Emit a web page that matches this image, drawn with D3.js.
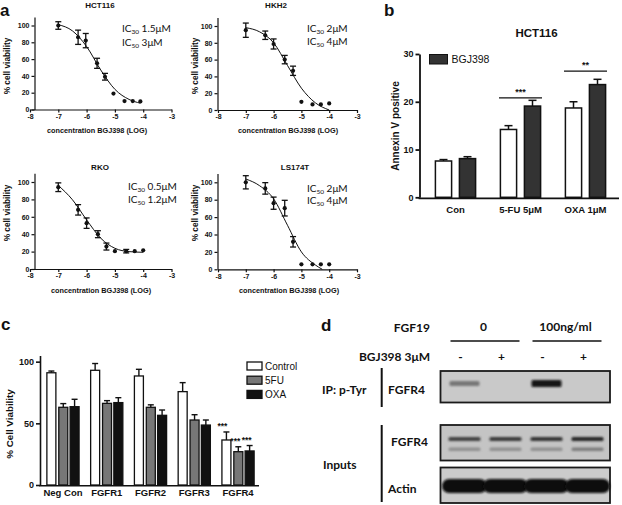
<!DOCTYPE html>
<html><head><meta charset="utf-8">
<script src="https://cdn.jsdelivr.net/npm/d3@7"></script>
<style>body{margin:0;background:#fff;} svg{display:block;}</style>
</head><body><svg id="chart" width="622" height="505"></svg>
<script>
// ================= DATA =================
// Panel a: dose-response curves
const aXTicks = [-8,-7,-6,-5,-4,-3];
const aYTicks = [0,20,40,60,80,100];
const aXLabel = "concentration BGJ398 (LOG)";
const aYLabel = "% cell viability";

const hct116LogConc = [-7,-6.3,-6.03,-5.63,-5.35,-5.05,-4.66,-4.37,-4.1];
const hct116Viab    = [100,86,82,55,39,19,10,10,9.6];
const hct116Err     = [4.5,8.5,8.5,6,4,0,0,0,0];
const hct116FitX    = [-7,-6.5,-6,-5.5,-5,-4.5,-4.1];
const hct116FitY    = [101,93.6,75,47,24,12,7.5];
const hct116IC      = [["30","1.5μM"],["50","3μM"]];

const hkh2LogConc = [-7,-6.3,-6,-5.6,-5.3,-5,-4.6,-4.3,-4];
const hkh2Viab    = [95,89,78.6,60,46.7,9.7,6.6,6.6,7.8];
const hkh2Err     = [8.5,5,6,5,5.5,0,0,0,0];
const hkh2FitX    = [-7,-6.5,-6,-5.5,-5,-4.5,-4];
const hkh2FitY    = [98,93,80,53,26,8.6,0];
const hkh2IC      = [["30","2μM"],["50","4μM"]];

const rkoLogConc = [-7,-6.3,-6,-5.6,-5.3,-5,-4.6,-4.3,-4];
const rkoViab    = [94,68,52.7,40,25.8,20.5,20.5,20.5,21.5];
const rkoErr     = [5,6,6,4,4,0,2,0,0];
const rkoFitX    = [-7,-6.5,-6,-5.5,-5,-4.5,-4];
const rkoFitY    = [96,79.6,56.5,35.4,23.8,20,19.2];
const rkoIC      = [["30","0.5μM"],["50","1.2μM"]];

const ls174tLogConc = [-7,-6.3,-6,-5.6,-5.3,-5,-4.6,-4.3,-4];
const ls174tViab    = [100,93,76,70.3,31.6,5.7,5.7,5.7,5.7];
const ls174tErr     = [7.6,6.6,7,9,6,0,0,0,0];
const ls174tFitX    = [-7,-6.5,-6,-5.5,-5,-4.5,-4.25];
const ls174tFitY    = [103.8,96,81,50.6,20,5,0];
const ls174tIC      = [["50","2μM"],["50","4μM"]];

// Panel b: Annexin V
const bTitle = "HCT116";
const bCategories = ["Con","5-FU 5μM","OXA 1μM"];
const bYTicks = [0,10,20,30];
const bYLabel = "Annexin V positive";
const bLegend = "BGJ398";
const bControl    = [7.6,14.2,18.7];
const bControlErr = [0.3,0.8,1.3];
const bBGJ        = [8.1,19.1,23.6];
const bBGJErr     = [0.4,1.2,1.1];
const bSigGroups  = ["5-FU 5μM","OXA 1μM"];
const bSigLabels  = ["***","**"];
const bSigLevels  = [20.8,26.4];

// Panel c: FGFR knockdown viability
const cCategories = ["Neg Con","FGFR1","FGFR2","FGFR3","FGFR4"];
const cSeries = ["Control","5FU","OXA"];
const cYTicks = [0,50,100];
const cYLabel = "% Cell Viability";
const cControl    = [91,93,88.4,75.7,36.5];
const cControlErr = [1.4,5.5,5.4,7.3,6.5];
const c5FU        = [63,66.2,63,52.7,27];
const c5FUErr     = [3,2.2,2,4.3,4];
const cOXA        = [63.5,66.8,56.5,48.6,27.6];
const cOXAErr     = [6,4,4.3,4.1,4.4];
const cStarLabel  = "***";

// Panel d: western blot
const dFGF19Groups = ["0","100ng/ml"];
const dBGJ = ["-","+","-","+"];
const dIPBand      = [0.45,0,1,0];
const dFGFR4Upper  = [0.7,0.75,0.78,0.85];
const dFGFR4Lower  = [0.3,0.3,0.3,0.4];
const dActin       = [1,1,1,1];

// ================= DRAW =================
const svg = d3.select("#chart");
const ARIAL = "'Liberation Sans', Arial, sans-serif";
const CAL = "Lato, 'Open Sans', sans-serif";
const INK = "#111";

const defs = svg.append("defs");
defs.append("filter").attr("id","blur1").attr("x","-20%").attr("y","-100%").attr("width","140%").attr("height","300%")
  .append("feGaussianBlur").attr("stdDeviation",0.9);
defs.append("filter").attr("id","blur2").attr("x","-20%").attr("y","-100%").attr("width","140%").attr("height","300%")
  .append("feGaussianBlur").attr("stdDeviation",1.3);

function letter(t,x,y){
  svg.append("text").attr("x",x).attr("y",y).text(t)
    .attr("font-family",ARIAL).attr("font-weight","bold").attr("font-size",17).attr("fill",INK);
}
letter("a",0,16); letter("b",384,16); letter("c",1,330); letter("d",321,331);

function styleAxis(g, fs, sw){
  g.selectAll("path.domain").attr("stroke",INK).attr("stroke-width",sw);
  g.selectAll(".tick line").attr("stroke",INK).attr("stroke-width",sw);
  g.selectAll(".tick text").attr("font-family",ARIAL).attr("font-weight","bold")
    .attr("font-size",fs).attr("fill",INK);
}

function curvePanel(o){
  const g = svg.append("g");
  const x = d3.scaleLinear().domain([-8,-3]).range(o.xr);
  const y = d3.scaleLinear().domain([0,110]).range(o.yr);
  // axes
  const ya = g.append("g").attr("transform",`translate(${o.yAxisX},0)`)
    .call(d3.axisLeft(y).tickValues(aYTicks).tickSize(3).tickSizeOuter(0).tickPadding(2));
  styleAxis(ya,7,1.2);
  const xa = g.append("g").attr("transform",`translate(0,${y(0)})`)
    .call(d3.axisBottom(x).tickValues(aXTicks).tickFormat(d=>String(d)).tickSize(3).tickSizeOuter(0).tickPadding(1.5));
  styleAxis(xa,7,1.2);
  // fit curve
  const line = d3.line().x(d=>x(d[0])).y(d=>y(d[1])).curve(d3.curveMonotoneX);
  g.append("path").datum(d3.zip(o.fitX,o.fitY)).attr("d",line)
    .attr("fill","none").attr("stroke",INK).attr("stroke-width",1);
  // error bars
  const pts = o.lx.map((v,i)=>({x:v,y:o.vy[i],e:o.err[i]}));
  const eb = g.append("g").attr("stroke",INK).attr("stroke-width",1.3);
  pts.filter(p=>p.e>0).forEach(p=>{
    eb.append("line").attr("x1",x(p.x)).attr("x2",x(p.x)).attr("y1",y(p.y-p.e)).attr("y2",y(p.y+p.e));
    [p.y-p.e,p.y+p.e].forEach(v=>eb.append("line").attr("x1",x(p.x)-3).attr("x2",x(p.x)+3).attr("y1",y(v)).attr("y2",y(v)));
  });
  g.selectAll("circle.pt").data(pts).enter().append("circle")
    .attr("cx",d=>x(d.x)).attr("cy",d=>y(d.y)).attr("r",2.1).attr("fill",INK);
  // title
  g.append("text").attr("x",o.title[1]).attr("y",o.title[2]).attr("text-anchor","middle").text(o.title[0])
    .attr("font-family",ARIAL).attr("font-weight","bold").attr("font-size",8).attr("fill",INK);
  // IC labels
  o.ic.forEach((d,i)=>{
    const t = g.append("text").attr("x",o.icX).attr("y",o.icY[i])
      .attr("font-family",CAL).attr("font-size",10).attr("fill",INK);
    t.append("tspan").text("IC");
    t.append("tspan").text(d[0]).attr("font-size",6.5).attr("dy",2);
    t.append("tspan").text(" "+d[1]).attr("dy",-2);
  });
  // axis labels
  g.append("text").attr("x",o.xl[0]).attr("y",o.xl[1]).attr("text-anchor","middle").text(aXLabel)
    .attr("font-family",ARIAL).attr("font-weight","bold").attr("font-size",7.3).attr("fill",INK);
  g.append("text").attr("transform",`translate(${o.yl[0]},${o.yl[1]}) rotate(-90)`)
    .attr("text-anchor","middle").attr("dy","0.35em").text(aYLabel)
    .attr("font-family",ARIAL).attr("font-weight","bold").attr("font-size",8.3).attr("fill",INK);
}

curvePanel({xr:[30,171.5], yr:[109.5,17.1], yAxisX:34.5, lx:hct116LogConc, vy:hct116Viab, err:hct116Err,
  fitX:hct116FitX, fitY:hct116FitY, ic:hct116IC, icX:122, icY:[32,45.5], title:["HCT116",100,8],
  xl:[97,133], yl:[7,66]});
curvePanel({xr:[218,357], yr:[110,17.6], yAxisX:217.5, lx:hkh2LogConc, vy:hkh2Viab, err:hkh2Err,
  fitX:hkh2FitX, fitY:hkh2FitY, ic:hkh2IC, icX:307, icY:[31.5,45], title:["HKH2",276,8],
  xl:[288,133], yl:[195,66]});
curvePanel({xr:[30,171.5], yr:[269,173.3], yAxisX:34.5, lx:rkoLogConc, vy:rkoViab, err:rkoErr,
  fitX:rkoFitX, fitY:rkoFitY, ic:rkoIC, icX:128, icY:[189.5,202.5], title:["RKO",100,170],
  xl:[101,293], yl:[7,213]});
curvePanel({xr:[218,357], yr:[269.3,173.6], yAxisX:217.5, lx:ls174tLogConc, vy:ls174tViab, err:ls174tErr,
  fitX:ls174tFitX, fitY:ls174tFitY, ic:ls174tIC, icX:307, icY:[192,203.5], title:["LS174T",295,170],
  xl:[289,293], yl:[195,213]});

// ---------- Panel b ----------
(function(){
  const g = svg.append("g");
  const y = d3.scaleLinear().domain([0,30]).range([197.3,54]);
  const x = d3.scaleBand().domain(bCategories).range([423,618]);
  const ya = g.append("g").attr("transform","translate(419.5,0)")
    .call(d3.axisLeft(y).tickValues(bYTicks).tickSize(4).tickSizeOuter(0).tickPadding(2));
  styleAxis(ya,9,1.8);
  g.append("line").attr("x1",418.6).attr("x2",619).attr("y1",198.3).attr("y2",198.3).attr("stroke",INK).attr("stroke-width",1.8);
  const xa = g.append("g").attr("transform","translate(0,198.3)")
    .call(d3.axisBottom(x).tickSize(0).tickPadding(8));
  xa.select("path.domain").remove();
  styleAxis(xa,9.5,1.5);
  const bw = 16.2, off = 12;
  const series = [{v:bControl,e:bControlErr,f:"#fff",o:-off},{v:bBGJ,e:bBGJErr,f:"#333",o:off}];
  series.forEach(s=>{
    bCategories.forEach((c,i)=>{
      const cx = x(c)+x.bandwidth()/2+s.o;
      g.append("line").attr("x1",cx).attr("x2",cx).attr("y1",y(s.v[i])).attr("y2",y(s.v[i]+s.e[i])).attr("stroke",INK).attr("stroke-width",1.5);
      g.append("line").attr("x1",cx-4).attr("x2",cx+4).attr("y1",y(s.v[i]+s.e[i])).attr("y2",y(s.v[i]+s.e[i])).attr("stroke",INK).attr("stroke-width",1.5);
      g.append("rect").attr("x",cx-bw/2).attr("y",y(s.v[i])).attr("width",bw).attr("height",y(0)-y(s.v[i]))
        .attr("fill",s.f).attr("stroke",INK).attr("stroke-width",1.5);
    });
  });
  bSigGroups.forEach((c,i)=>{
    const cx = x(c)+x.bandwidth()/2;
    g.append("line").attr("x1",cx-21.5).attr("x2",cx+21.5).attr("y1",y(bSigLevels[i])).attr("y2",y(bSigLevels[i])).attr("stroke",INK).attr("stroke-width",1.3);
    g.append("text").attr("x",cx).attr("y",y(bSigLevels[i])-3).attr("text-anchor","middle").text(bSigLabels[i])
      .attr("font-family",ARIAL).attr("font-weight","bold").attr("font-size",9).attr("fill",INK);
  });
  g.append("text").attr("x",536.5).attr("y",37).attr("text-anchor","middle").text(bTitle)
    .attr("font-family",ARIAL).attr("font-weight","bold").attr("font-size",11.5).attr("fill",INK);
  g.append("text").attr("transform","translate(395,126) rotate(-90)").attr("text-anchor","middle").attr("dy","0.35em")
    .text(bYLabel).attr("font-family",ARIAL).attr("font-weight","bold").attr("font-size",10).attr("fill",INK);
  g.append("rect").attr("x",429.5).attr("y",54.5).attr("width",18).attr("height",9.5).attr("fill","#333").attr("stroke",INK).attr("stroke-width",1);
  g.append("text").attr("x",451.5).attr("y",63).text(bLegend)
    .attr("font-family",ARIAL).attr("font-size",10.5).attr("fill",INK);
})();

// ---------- Panel c ----------
(function(){
  const g = svg.append("g");
  const y = d3.scaleLinear().domain([0,105]).range([485,355.5]);
  const x = d3.scaleBand().domain(cCategories).range([41.1,259.9]);
  const ya = g.append("g").attr("transform","translate(40,0)")
    .call(d3.axisLeft(y).tickValues(cYTicks).tickSize(4).tickSizeOuter(0).tickPadding(2));
  styleAxis(ya,9,1.6);
  g.append("line").attr("x1",39.2).attr("x2",259).attr("y1",485.7).attr("y2",485.7).attr("stroke",INK).attr("stroke-width",1.6);
  const xa = g.append("g").attr("transform","translate(0,485.7)")
    .call(d3.axisBottom(x).tickSize(0).tickPadding(4));
  xa.select("path.domain").remove();
  styleAxis(xa,9.5,1.5);
  const fills = ["#fff","#777","#111"];
  const vals = [cControl,c5FU,cOXA], errs=[cControlErr,c5FUErr,cOXAErr];
  const offs = [-11.6,0.3,11.6], bw = 9;
  vals.forEach((v,k)=>{
    cCategories.forEach((c,i)=>{
      const cx = x(c)+x.bandwidth()/2+offs[k];
      g.append("line").attr("x1",cx).attr("x2",cx).attr("y1",y(v[i])).attr("y2",y(v[i]+errs[k][i])).attr("stroke",INK).attr("stroke-width",1.4);
      g.append("line").attr("x1",cx-3).attr("x2",cx+3).attr("y1",y(v[i]+errs[k][i])).attr("y2",y(v[i]+errs[k][i])).attr("stroke",INK).attr("stroke-width",1.4);
      g.append("rect").attr("x",cx-bw/2).attr("y",y(v[i])).attr("width",bw).attr("height",y(0)-y(v[i]))
        .attr("fill",fills[k]).attr("stroke",INK).attr("stroke-width",1.3);
      if(c==="FGFR4"){
        g.append("text").attr("x",cx-3+(k===0?-1:0)).attr("y",y(v[i]+errs[k][i])-3).attr("text-anchor","middle").text(cStarLabel)
          .attr("font-family",ARIAL).attr("font-weight","bold").attr("font-size",8.5).attr("fill",INK);
      }
    });
  });
  g.append("text").attr("transform","translate(10,424) rotate(-90)").attr("text-anchor","middle").attr("dy","0.35em")
    .text(cYLabel).attr("font-family",ARIAL).attr("font-weight","bold").attr("font-size",9.8).attr("fill",INK);
  cSeries.forEach((s,k)=>{
    const ly = 362 + k*14.2;
    g.append("rect").attr("x",247).attr("y",ly).attr("width",15).attr("height",8).attr("fill",fills[k]).attr("stroke",INK).attr("stroke-width",1.3);
    g.append("text").attr("x",265).attr("y",ly+8).text(s)
      .attr("font-family",ARIAL).attr("font-size",10).attr("fill",INK);
  });
})();

// ---------- Panel d ----------
(function(){
  const g = svg.append("g");
  const lanes = d3.scaleBand().domain(d3.range(dBGJ.length)).range([444,608]);
  const lc = i => lanes(i)+lanes.bandwidth()/2;
  const txt = (t,x,y,anchor)=>g.append("text").attr("x",x).attr("y",y).attr("text-anchor",anchor||"start").text(t)
      .attr("font-family",CAL).attr("font-weight","bold").attr("font-size",12).attr("fill",INK);
  txt("FGF19",430,332,"end");
  dFGF19Groups.forEach((t,k)=>{
    const c = (lc(2*k)+lc(2*k+1))/2;
    txt(t,c-1.5,331,"middle");
    g.append("line").attr("x1",c-34.5).attr("x2",c+34.5).attr("y1",341).attr("y2",341).attr("stroke",INK).attr("stroke-width",1.5);
  });
  txt("BGJ398 3μM",430,361,"end");
  dBGJ.forEach((t,i)=>txt(t,lc(i)-4,361,"middle"));
  txt("IP: p-Tyr",322,394);
  txt("FGFR4",388,394);
  txt("Inputs",323,469);
  txt("FGFR4",391,446);
  txt("Actin",388,493);
  g.append("line").attr("x1",381.7).attr("x2",381.7).attr("y1",368).attr("y2",407).attr("stroke",INK).attr("stroke-width",2);
  g.append("line").attr("x1",381.7).attr("x2",381.7).attr("y1",425).attr("y2",502).attr("stroke",INK).attr("stroke-width",2);
  // blot boxes
  const boxes = [[371,31.5,"#c9c9c9"],[425,35.5,"#c4c4c4"],[467.5,35.5,"#cbcbcb"]];
  boxes.forEach(b=>g.append("rect").attr("x",440.5).attr("y",b[0]).attr("width",169.5).attr("height",b[1])
     .attr("fill",b[2]).attr("stroke","#1a1a1a").attr("stroke-width",1.8));
  const shade = d3.scaleLinear().domain([0,1]).range(["#c9c9c9","#0a0a0a"]);
  dIPBand.forEach((v,i)=>{ if(v>0) g.append("rect").attr("x",lc(i)-15).attr("y",383.5-(1.5+2*v)).attr("width",30)
     .attr("height",3+4*v).attr("rx",1.5).attr("fill",shade(v*0.95)).attr("filter","url(#blur1)"); });
  dFGFR4Upper.forEach((v,i)=>g.append("rect").attr("x",lc(i)-16).attr("y",437).attr("width",32).attr("height",4)
     .attr("rx",1.5).attr("fill",shade(v)).attr("filter","url(#blur1)"));
  dFGFR4Lower.forEach((v,i)=>g.append("rect").attr("x",lc(i)-16).attr("y",447.5).attr("width",32).attr("height",3.5)
     .attr("rx",1.5).attr("fill",shade(v)).attr("filter","url(#blur1)"));
  dActin.forEach((v,i)=>g.append("rect").attr("x",lc(i)-22.5).attr("y",479).attr("width",45).attr("height",14)
     .attr("rx",7).attr("fill",shade(v)).attr("filter","url(#blur2)"));
})();
</script></body></html>
